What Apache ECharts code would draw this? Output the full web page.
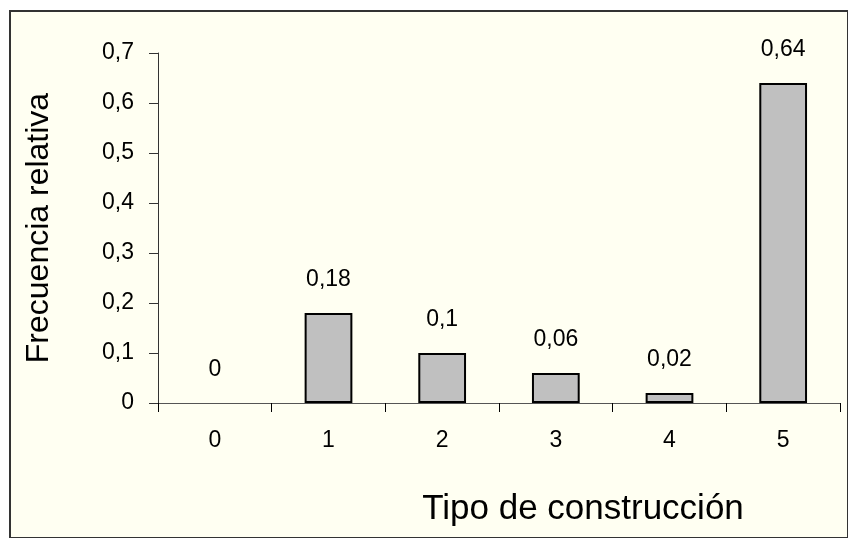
<!DOCTYPE html>
<html>
<head>
<meta charset="utf-8">
<script src="https://cdn.jsdelivr.net/npm/echarts@6/dist/echarts.min.js"></script>
<style>
html, body { margin: 0; padding: 0; background: #fff; }
#wrap { position: absolute; left: 9px; top: 10px; width: 839px; height: 528px; border: 2px solid #333; border-right-width: 1px; border-bottom-width: 1px; box-sizing: border-box; background: #fffff2; }
#chart { position: absolute; left: 0; top: 0; width: 859px; height: 550px; }
</style>
</head>
<body>
<div id="wrap"></div>
<div id="chart"></div>
<script>
var categories = ['0', '1', '2', '3', '4', '5'];
var frecuencias = [0, 0.18, 0.1, 0.06, 0.02, 0.64];

var coma = function (v) {
    return String(v).replace('.', ',');
};

// una barra de valor 0 no se dibuja (sin borde), pero conserva su etiqueta
var barData = frecuencias.map(function (v) {
    return v === 0 ? { value: v, itemStyle: { borderWidth: 0, color: 'transparent' } } : v;
});

var chart = echarts.init(document.getElementById('chart'));

var option = {
    animation: false,
    grid: {
        left: 158,
        right: 19,
        top: 53,
        bottom: 147
    },
    xAxis: {
        type: 'category',
        data: categories,
        name: 'Tipo de construcción',
        nameLocation: 'middle',
        nameGap: 89,
        nameTextStyle: {
            color: '#000',
            fontSize: 35,
            fontFamily: 'Liberation Sans',
            padding: [0, 0, 0, 168]
        },
        axisLine: { lineStyle: { color: '#555', width: 1 } },
        axisTick: { show: true, length: 9, alignWithLabel: false, lineStyle: { color: '#000' } },
        axisLabel: {
            color: '#000',
            fontSize: 23,
            fontFamily: 'Liberation Sans',
            margin: 26
        }
    },
    yAxis: {
        type: 'value',
        min: 0,
        max: 0.7,
        interval: 0.1,
        name: 'Frecuencia relativa',
        nameLocation: 'middle',
        nameGap: 103,
        nameTextStyle: {
            color: '#000',
            fontSize: 32,
            fontFamily: 'Liberation Sans'
        },
        axisLine: { show: true, lineStyle: { color: '#333', width: 1 } },
        axisTick: { show: true, inside: false, length: 9, lineStyle: { color: '#333' } },
        splitLine: { show: false },
        axisLabel: {
            color: '#000',
            fontSize: 23,
            fontFamily: 'Liberation Sans',
            margin: 24,
            formatter: function (v) { return coma(Math.round(v * 10) / 10); }
        }
    },
    series: [
        {
            type: 'bar',
            data: barData,
            barWidth: '42%',
            itemStyle: {
                color: '#c0c0c0',
                borderColor: '#000',
                borderWidth: 2
            },
            label: {
                show: true,
                position: 'top',
                distance: 22,
                color: '#000',
                fontSize: 23,
                fontFamily: 'Liberation Sans',
                formatter: function (p) { return coma(p.value); }
            }
        }
    ]
};

chart.setOption(option);
</script>
</body>
</html>
